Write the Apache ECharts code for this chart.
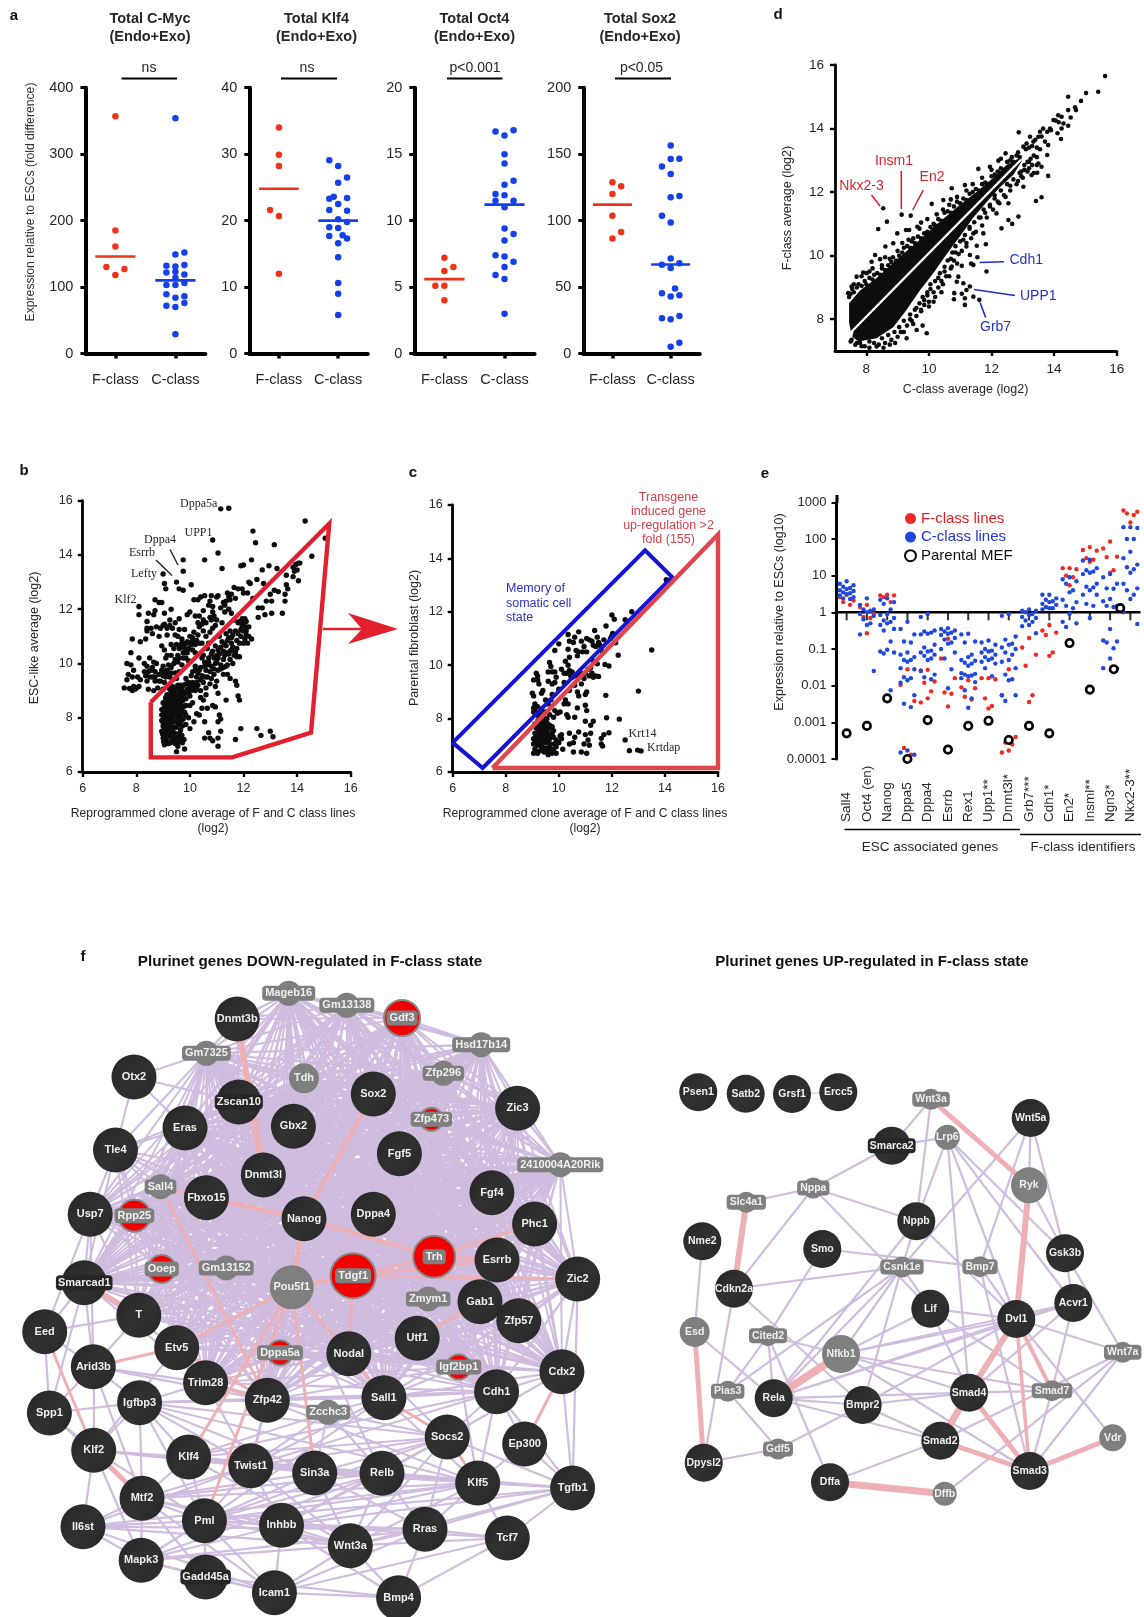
<!DOCTYPE html>
<html><head><meta charset="utf-8">
<style>html,body{margin:0;padding:0;background:#fff}#c{width:1144px;height:1617px}#c canvas{filter:blur(.45px)}</style>
<script src="https://cdn.jsdelivr.net/npm/echarts@6/dist/echarts.min.js"></script></head>
<body><div id="c"></div><script>
// ---------- panel a: [column offset, value] ----------
const classLabels=['F-class','C-class'];
const mycF=[[0,357],[0,185],[0,161],[-1,130],[1,127],[0,118]], mycC=[[0,354],[1,152],[0,149],[-1,132],[0,131],[1,133],[-1,122],[0,123],[1,119],[0,114],[-1,103],[0,103],[1,106],[-1,89],[0,84],[1,86],[1,76],[-1,72],[0,70],[0,29]];
const klfF=[[0,34],[0,29.9],[0,28.2],[-1,21.6],[0,20.7],[0,12]], klfC=[[-1,29.1],[0,28.2],[1,26.5],[0,25.7],[-.5,23.6],[-1,23.3],[1,23.4],[0,22.5],[-1,21.6],[1,21.5],[0,20.2],[1,19.8],[-1,19],[0,18.9],[-1,17.7],[.5,17.8],[1,17.3],[0,16.6],[0,14.5],[0,10.6],[0,9],[0,5.8]];
const octF=[[0,7.2],[1,6.5],[0,6.2],[-1,5.1],[0,5.1],[0,4]], octC=[[1,16.8],[-1,16.7],[0,16.4],[0,15],[0,14.3],[1,13],[0,12.7],[-1,12],[0,11.9],[-1,11.5],[1,11.5],[0,11],[0,9.4],[1,9],[0,8.5],[-1,7.4],[0,7.3],[1,6.9],[0,6.5],[-1,5.9],[0,5.6],[0,3]];
const soxF=[[0,128.8],[1,125.8],[0,120],[0,103.7],[1,91.5],[0,86.5]], soxC=[[0,156.6],[0,146.4],[1,146.6],[-1,140.8],[0,135],[1,118.5],[0,117.5],[-1,103.7],[0,98.5],[0,71.4],[1,68],[-1,66.7],[0,64.4],[.5,48.9],[-1,45.4],[1,43.9],[0,42.9],[1,28.3],[-1,26.6],[0,25.8],[1,8],[0,5]];
const meansF=[146,24.8,5.6,112], meansC=[110,20,11.2,67];
const maxA=[400,40,20,200];
// ---------- panel b: [reprogrammed clone average, ESC-like average] ----------
const bPoints=[[11.15,15.7],[11.45,15.72],[14.3,15.25],[15.05,14.62],[14.55,13.95],[12.35,14.88],[12.45,14.45],[13.15,14.38],[10.85,14.55],[11.05,14.07],[10.55,13.82],[9.75,13.82],[9.75,13.4],[11.2,13.5],[12.3,13.82],[11.9,13.6],[12.0,13.63],[9.0,13.3],[9.05,12.95],[9.1,12.75],[9.75,12.7],[9.6,12.75],[9.5,13.0],[10.05,12.9],[8.7,12.35],[8.85,12.25],[8.95,12.25],[8.1,12.1],[8.1,11.8],[8.45,11.85],[8.4,11.55],[8.65,11.8],[8.7,11.95],[9.05,11.85],[9.0,11.4],[8.4,11.3],[8.4,11.2],[8.55,11.3],[8.75,11.35],[8.9,11.3],[9.05,11.45],[9.15,11.3],[9.25,11.4],[9.35,11.3],[9.15,11.05],[8.85,11.0],[8.6,11.1],[7.85,10.9],[8.15,10.8],[8.35,10.9],[7.8,10.4],[8.1,10.2],[8.3,10.0],[8.5,10.2],[7.65,10.0],[7.8,9.95],[7.9,9.75],[7.7,9.6],[7.65,9.4],[7.85,9.5],[8.05,9.5],[8.15,9.4],[8.3,9.7],[8.35,9.55],[8.4,9.35],[8.55,9.75],[8.5,9.5],[8.6,9.85],[8.7,9.7],[8.65,10.05],[8.75,10.0],[7.55,9.1],[7.75,9.08],[7.85,9.0],[7.9,9.15],[7.95,9.05],[8.0,9.1],[8.1,9.15],[8.45,9.05],[8.65,9.0],[8.8,9.1],[9.0,9.05],[8.7,9.35],[8.9,9.35],[9.05,9.3],[9.1,9.5],[8.85,9.6],[8.95,9.75],[9.1,9.7],[9.2,9.6],[9.3,9.65],[9.0,9.9],[9.2,9.95],[9.4,10.0],[9.55,10.05],[9.6,9.7],[9.35,9.4],[9.5,9.45],[9.3,10.3],[9.1,10.2],[8.95,10.65],[9.05,10.5],[9.15,10.3],[9.3,10.7],[9.4,10.55],[9.55,10.3],[9.65,10.65],[9.75,10.6],[9.85,10.75],[9.95,10.55],[10.05,10.7],[10.15,10.8],[10.25,10.85],[10.35,10.75],[10.45,10.75],[9.9,10.4],[9.7,10.9],[9.55,11.0],[10.0,11.0],[9.45,11.05],[9.75,10.2],[9.95,10.1],[10.2,10.4],[10.1,10.95],[9.6,11.65],[9.8,11.25],[9.9,11.8],[10.0,11.9],[10.3,11.5],[10.35,11.35],[10.5,11.6],[10.6,11.0],[10.75,11.15],[10.85,11.3],[10.95,11.4],[10.6,11.5],[10.75,11.7],[10.85,11.9],[11.0,11.6],[10.5,11.95],[10.3,12.35],[10.4,12.45],[10.55,12.5],[10.8,12.5],[11.0,12.45],[11.05,12.5],[10.85,12.1],[10.7,12.15],[11.25,12.25],[11.35,12.3],[11.45,12.45],[11.5,12.35],[11.45,12.0],[11.55,11.85],[11.7,12.4],[11.65,12.8],[11.8,12.75],[11.95,12.75],[12.0,12.6],[12.15,12.6],[11.3,11.9],[11.2,11.5],[12.2,13.0],[12.25,12.95],[12.5,13.1],[12.7,13.45],[12.95,13.6],[13.25,13.5],[12.75,12.95],[12.35,12.4],[12.55,12.05],[12.7,12.05],[12.85,12.3],[13.05,12.3],[13.3,12.65],[13.15,12.7],[13.0,12.55],[13.6,12.9],[13.65,12.75],[13.55,12.55],[13.55,12.3],[13.45,11.85],[12.8,11.8],[13.05,11.85],[12.55,11.7],[13.6,13.25],[13.9,13.4],[13.85,13.55],[13.95,13.65],[14.05,13.7],[14.1,13.7],[14.0,13.45],[14.05,13.05],[13.85,13.2],[11.65,11.6],[11.85,11.55],[11.95,11.65],[12.0,11.5],[12.1,11.55],[12.2,11.35],[11.9,11.25],[12.0,11.2],[12.1,11.05],[12.2,11.0],[11.9,11.0],[11.5,11.2],[11.35,11.1],[11.45,10.95],[11.6,11.05],[11.55,10.75],[11.35,10.65],[11.15,10.6],[11.05,10.5],[11.25,10.45],[11.45,10.35],[11.65,10.3],[11.75,10.25],[11.85,10.25],[12.0,10.75],[12.15,10.75],[12.3,10.9],[11.05,10.2],[11.25,10.15],[10.8,10.35],[10.7,10.2],[10.95,10.0],[10.55,10.05],[10.6,9.75],[10.35,9.75],[10.45,9.55],[10.25,9.5],[10.05,9.55],[9.95,9.3],[10.1,9.3],[9.85,9.45],[9.75,9.2],[10.3,9.2],[10.5,9.3],[10.65,9.5],[10.9,9.6],[11.15,9.8],[11.25,9.6],[11.4,9.6],[11.5,9.45],[11.6,10.0],[11.0,9.35],[11.7,9.35],[11.75,9.2],[11.8,8.8],[11.85,8.65],[11.35,8.65],[11.05,8.9],[10.6,8.85],[10.4,8.75],[10.5,8.65],[10.85,8.45],[10.65,8.35],[10.45,8.35],[10.25,8.15],[10.35,8.1],[10.55,7.85],[11.1,8.1],[11.15,7.95],[11.05,7.85],[10.95,8.4],[10.15,7.85],[10.0,7.6],[9.85,7.75],[10.7,7.45],[10.55,7.25],[10.85,7.15],[10.75,7.25],[11.05,7.25],[11.15,7.5],[11.05,6.95],[11.7,7.2],[11.9,7.6],[12.5,7.6],[12.65,7.35],[13.0,7.5],[13.1,7.3],[9.5,6.75],[9.8,6.85],[9.05,7.0],[9.35,7.15],[9.45,7.05],[9.55,6.95],[9.65,7.2],[9.7,7.35],[9.55,7.3],[9.3,7.3],[9.15,7.15],[9.0,7.25],[9.05,7.35],[9.2,7.4],[9.4,7.45],[8.95,7.5],[9.1,7.55],[9.25,7.6],[9.35,7.55],[9.5,7.65],[9.65,7.55],[9.0,7.7],[9.15,7.75],[9.3,7.8],[9.45,7.85],[9.6,7.8],[9.75,7.95],[8.95,7.9],[9.1,7.95],[9.2,8.0],[9.35,8.05],[9.5,8.1],[9.65,8.05],[9.85,8.1],[9.0,8.1],[9.1,8.2],[9.25,8.25],[9.4,8.3],[9.55,8.35],[9.7,8.3],[8.95,8.3],[9.05,8.4],[9.2,8.45],[9.35,8.5],[9.5,8.55],[9.65,8.5],[9.85,8.45],[9.0,8.55],[9.1,8.65],[9.25,8.7],[9.4,8.75],[9.55,8.7],[9.7,8.75],[9.85,8.7],[10.0,8.8],[9.15,8.85],[9.3,8.95],[9.45,8.9],[9.6,9.0],[9.75,8.95],[9.9,9.05],[10.05,9.0],[10.2,9.0],[9.5,9.1],[9.35,9.15],[9.65,9.2],[10.4,9.0],[10.0,8.45],[10.1,8.55],[9.2,7.05],[9.5,7.4],[8.95,8.1],[9.05,7.85],[9.3,8.6],[9.45,8.2],[9.1,8.75],[9.6,8.6],[9.8,8.2],[9.95,8.0],[10.65,10.55],[10.85,10.45],[10.95,10.65],[10.7,10.75],[10.5,10.3],[11.0,10.05],[11.35,9.9],[11.5,10.15],[11.15,9.95],[10.8,9.9],[10.45,10.2],[10.2,9.9],[10.3,9.65],[11.55,10.5],[11.75,10.55],[11.8,11.5],[12.1,11.35],[12.05,11.65],[9.3,12.0],[9.45,11.5],[9.6,11.25],[9.25,11.6],[10.15,11.15],[10.5,11.2],[11.1,11.0],
[9.02,7.12],[9.12,7.28],[9.28,7.08],[9.42,7.22],[9.58,7.12],[9.72,7.08],[8.98,7.4],[9.12,7.45],[9.28,7.42],[9.45,7.32],[9.62,7.42],[9.78,7.2],[9.05,7.6],[9.18,7.62],[9.32,7.68],[9.42,7.65],[9.55,7.72],[9.72,7.7],[9.0,7.82],[9.12,7.85],[9.25,7.88],[9.38,7.95],[9.55,7.95],[9.68,7.88],[9.05,8.02],[9.15,8.08],[9.3,8.12],[9.42,8.12],[9.58,8.2],[9.72,8.15],[9.02,8.22],[9.18,8.32],[9.32,8.38],[9.48,8.42],[9.62,8.38],[9.78,8.42],[9.05,8.5],[9.15,8.55],[9.28,8.58],[9.42,8.62],[9.58,8.8],[9.72,8.62],[9.2,8.78],[9.35,8.82],[9.48,8.8],[9.65,8.88],[9.8,8.88],[9.95,8.9],[9.4,9.05],[9.55,9.2],[9.7,9.1],[9.85,9.25],[10.1,9.1],[9.25,9.05],
[10.1,9.7],[10.2,9.75],[10.4,9.85],[10.55,9.9],[10.65,9.95],[10.7,10.05],[10.9,10.2],[11.0,10.3],[11.1,10.35],[11.3,10.3],[11.35,10.4],[11.5,10.45],[11.6,10.6],[11.7,10.4],[11.3,10.7],[11.2,10.8],[11.4,10.85],[11.55,10.95],[11.7,11.2],[11.75,10.85],[11.85,10.75],[12.05,10.9],[12.1,11.2],[11.95,11.4],[11.8,11.1],[10.25,9.3],[10.4,9.4],[10.55,9.5],[10.75,9.7],[10.9,9.8],[11.05,9.75],[11.25,9.85],[11.4,9.95],[10.15,9.15],[10.0,9.15],[10.25,9.05],[10.6,9.1],[10.75,9.25],[10.95,9.15],[10.8,9.45],
[9.7,10.75],[9.8,10.7],[9.9,10.8],[10.0,10.75],[10.1,10.85],[10.2,10.7],[9.6,10.55],[9.5,10.7],[9.85,10.5],[9.75,10.4],[9.6,10.2],[9.45,10.15],[9.3,9.85],[9.15,9.75],[9.0,9.55],[8.85,9.35],[8.6,9.5],[8.45,9.7],[8.4,9.9],[8.7,9.5],[9.05,9.65],[9.25,9.5],[9.45,9.65],[9.7,9.95],[9.85,10.2],[10.1,10.5],[10.3,11.05],[10.45,11.45],[10.2,11.75],[10.35,11.75],[10.8,11.6],[10.9,11.75],[11.15,12.05],[11.3,12.15],[11.55,12.55],[11.4,12.6],[10.15,12.35],[10.75,12.3]];
const bGate=[[8.54,8.57],[15.2,15.16],[14.52,7.45],[11.58,6.54],[8.54,6.54],[8.54,8.57]];
// ---------- panel c: [reprogrammed clone average, parental fibroblast] ----------
const cPoints=[[14.05,13.2],[12.75,12.0],[12.0,11.88],[12.09,11.72],[12.5,11.7],[11.78,11.47],[13.5,10.57],[13.0,9.03],[12.24,10.37],[12.14,10.84],[12.03,11.19],[11.74,10.03],[11.89,9.97],[11.77,8.87],[11.8,8.03],[12.28,7.98],[12.5,7.2],[12.66,6.8],[12.97,6.82],[13.1,6.79],[11.89,7.47],[11.7,7.4],[11.6,7.26],[11.6,7.05],[11.65,6.97],[10.35,11.15],[10.6,11.05],[10.75,11.25],[10.4,10.9],[10.0,10.8],[9.85,10.55],[10.35,10.6],[10.65,10.55],[10.85,10.9],[11.05,11.0],[11.15,10.95],[11.25,10.9],[11.35,11.3],[11.45,11.05],[11.55,10.75],[11.7,10.95],[11.95,11.0],[12.0,11.1],[11.4,10.7],[11.6,10.55],[10.9,10.5],[11.05,10.5],[10.7,10.35],[10.75,10.5],[10.25,10.15],[10.35,10.0],[10.4,9.8],[10.5,9.75],[10.45,9.6],[9.65,10.1],[9.7,9.95],[9.6,9.75],[9.75,9.75],[9.85,9.75],[9.9,9.55],[9.15,9.7],[9.2,9.6],[9.05,9.45],[9.2,9.45],[9.6,9.4],[9.75,9.3],[9.85,9.35],[10.5,9.55],[10.6,9.6],[10.75,9.6],[11.0,9.7],[11.1,9.85],[11.2,9.9],[11.25,9.7],[11.4,9.6],[11.5,9.58],[10.85,9.3],[10.6,9.25],[10.4,9.05],[10.75,8.85],[10.7,9.0],[11.05,9.0],[11.0,8.9],[9.0,8.95],[9.05,8.85],[9.35,8.95],[9.5,8.7],[9.6,8.55],[9.7,8.7],[9.1,8.55],[9.05,8.4],[9.1,8.3],[9.2,8.45],[9.05,8.25],[9.15,8.15],[9.35,8.35],[9.4,8.1],[10.25,8.7],[10.2,8.55],[10.35,8.55],[10.7,8.4],[11.0,8.5],[11.05,8.3],[9.85,8.3],[9.95,8.2],[10.05,8.25],[10.3,8.15],[10.35,8.05],[9.8,8.05],[10.6,8.05],[11.0,7.9],[11.2,7.75],[11.3,7.9],[9.3,7.95],[9.4,7.85],[9.25,7.75],[9.35,7.65],[9.5,7.7],[9.55,7.85],[9.65,7.75],[9.75,7.7],[9.8,7.55],[9.4,7.45],[9.25,7.5],[9.55,7.5],[9.15,7.35],[9.05,7.25],[9.2,7.2],[9.35,7.15],[9.5,7.25],[9.65,7.25],[9.8,7.3],[9.9,7.2],[10.05,7.35],[10.1,7.4],[10.4,7.45],[10.75,7.5],[11.0,7.4],[11.2,7.45],[10.6,7.3],[11.1,7.2],[10.95,7.05],[11.15,7.0],[10.4,7.05],[10.55,7.1],[10.0,7.1],[10.1,7.25],[9.85,7.05],[10.15,6.85],[9.9,6.95],[9.05,7.05],[9.2,7.0],[9.35,6.95],[9.5,6.9],[9.65,6.95],[9.8,6.85],[9.1,6.85],[9.05,6.7],[9.2,6.7],[9.45,6.75],[9.55,6.75],[9.6,6.65],[9.75,6.7],[9.9,6.7],[10.55,6.75],[10.85,6.75],[11.05,6.7],[9.35,7.4],[9.45,7.6],[9.15,7.65],[9.75,7.45],[9.55,8.0],[9.65,8.15],[10.4,10.3],[10.0,9.1],[10.2,9.35],[11.45,10.05],[11.15,9.6],[11.25,10.2],
[9.25,8.05],[9.3,8.2],[9.45,8.0],[9.5,8.25],[9.2,7.9],[9.1,7.8],[9.45,7.75],[9.6,7.6],[9.3,7.6],[9.2,7.4],[9.1,7.1],[9.25,7.05],[9.45,7.1],[9.6,7.1],[9.7,7.05],[9.3,6.8],[9.4,6.85],[9.55,6.85],[9.7,6.8],[9.15,6.75],[9.1,7.45],[9.55,7.35],[9.45,7.3],[9.3,7.25],[9.7,7.4],[10.1,9.85],[10.2,9.7],[9.25,9.3],[9.4,9.05],[9.75,8.9],[10.3,9.7],[10.95,9.5],[10.8,9.75],[11.3,9.55],[10.95,10.7],[10.55,10.85],[11.3,10.75],[11.5,10.85]];
const cBlueBox=[[6,7.1],[13.25,14.3],[14.27,13.3],[7.13,6.15],[6,7.1]];
const cRedTri=[[7.5,6.15],[16,14.9],[16,6.15],[7.5,6.15]];
// ---------- panel d: [C-class average, F-class average] ----------
const dUpperCloud=[[7.5,7.63],[7.45,7.9],[7.45,8.5],[7.8,8.9],[8.33,9.3],[8.86,9.78],[9.29,10.15],[9.71,10.5],[10.14,10.9],[10.57,11.25],[10.99,11.6],[11.52,12.0],[12.06,12.45],[12.48,12.85],[13.0,13.13]];
const dLowerCloud=[[7.6,7.63],[13.0,13.03],[12.7,12.55],[12.27,12.15],[11.84,11.68],[11.42,11.2],[10.99,10.6],[10.57,10.05],[10.14,9.45],[9.71,8.9],[9.29,8.3],[8.86,7.75],[8.33,7.4],[7.75,7.3],[7.55,7.45]];
const dPoints=[[15.63,15.65],[15.41,15.16],[15.02,15.12],[14.45,15],[14.86,14.87],[14.67,14.67],[14.7,14.58],[14.45,14.58],[14.53,14.35],[14.24,14.37],[14.13,14.42],[13.98,14.27],[14.3,14.16],[14.45,14.09],[14.24,14],[14.11,13.85],[14.22,13.67],[13.87,14.0],[13.65,14],[13.55,13.9],[13.78,13.9],[13.5,13.74],[13.23,13.74],[12.87,13.88],[13.71,13.59],[13.81,13.48],[13.12,13.53],[13.34,13.59],[13.02,13.43],[13.78,13.17],[13.5,12.9],[13.6,12.8],[13.46,12.61],[13.81,12.51],[13.6,11.84],[13.42,11.72],[14.05,14.25],[14.15,14.2],[13.9,13.95],[13.6,13.75],[13.4,13.65],[13.3,13.45],[13.45,13.4],[13.2,13.4],[13.1,13.35],[13.55,13.35],[13.45,13.1],[13.35,13.15],[13.25,13.05],[13.15,12.95],[13.3,12.85],[13.45,12.85],[13.2,12.75],[13.35,12.6],[13.05,12.7],[12.95,12.65],[8.54,11.49],[8.66,11.07],[8.38,10.84],[9.13,11.29],[9.42,11.26],[9.27,10.81],[9.37,10.81],[9.63,10.91],[9.75,11.04],[8.99,10.7],[8.86,10.39],[8.61,10.29],[8.28,10.02],[8.44,9.89],[8.17,9.81],[7.9,9.47],[8.01,9.45],[7.69,9.34],[7.53,9.03],[7.42,8.82],[10.09,11.63],[10.46,11.75],[10.73,12.12],[10.7,11.77],[11.15,12.22],[11.58,12.73],[11.95,12.8],[12.22,12.99],[12.45,13.22],[9.15,10.4],[9.5,10.55],[9.7,10.85],[9.95,11.15],[10.25,11.3],[10.45,11.45],[10.65,11.6],[10.9,11.85],[11.2,12.05],[11.4,12.25],[11.7,12.45],[12.0,12.7],[12.3,13.05],[12.65,13.1],[12.85,13.25],[8.2,9.6],[8.6,9.95],[9.0,10.15],[9.35,10.5],[7.6,9.1],[7.85,9.35],[8.1,9.5],[8.5,9.7],[8.75,9.9],[11.84,9.5],[11.55,9.95],[11.42,9.71],[11.35,9.75],[11.82,10.36],[11.53,10.31],[12.32,10.86],[12.66,11],[12.86,11.23],[12.54,11.12],[11.31,9.03],[11.2,8.92],[11.61,8.61],[11.42,8.71],[11.15,8.66],[11.15,8.45],[11.05,8.8],[10.81,8.82],[10.8,8.63],[10.89,9.18],[11.1,9.13],[9.93,7.56],[9.61,7.66],[9.29,7.4],[8.92,7.25],[8.33,7.14],[7.53,7.35],[10.94,9.34],[10.73,9.66],[11.05,9.68],[11.31,10.02],[11.2,10.29],[11.74,10.7],[11.42,10.7],[12.16,11.33],[12.54,11.65],[13.02,12.17],[13.28,12.54],[12.45,11.85],[12.2,11.7],[12.85,12.35],[12.6,12.2],[12.95,12.5],[12.1,11.9],[11.95,11.55],[11.65,11.2],[11.8,11.35],[11.3,10.9],[11.1,10.5],[10.85,10.1],[10.7,9.9],[10.5,9.5],[10.3,9.3],[10.05,8.95],[9.85,8.6],[9.6,8.35],[9.4,8.0],[9.1,7.6],[10.45,9.1],[10.2,8.7],[10.0,8.4],[9.75,8.25],[10.65,9.35],[10.9,9.75],[10.4,8.85],[10.15,8.55],[9.95,8.75],[9.8,7.8],[9.5,7.85],[9.2,7.6],[8.75,7.2],[8.55,7.1],[8.1,7.1],[7.85,7.15],[7.7,7.25],
[7.45,8.7],[7.5,8.8],[7.6,8.85],[7.55,8.95],[7.7,9.0],[7.75,9.1],[7.85,9.05],[7.95,9.2],[8.0,9.1],[8.1,9.3],[8.2,9.25],[8.25,9.4],[8.35,9.45],[8.45,9.4],[8.5,9.6],[8.6,9.55],[8.7,9.7],[8.8,9.8],[8.85,9.95],[8.95,9.85],[9.05,10.0],[9.15,10.1],[9.2,10.25],[9.3,10.3],[9.4,10.25],[9.45,10.45],[9.55,10.4],[9.65,10.6],[9.75,10.55],[9.85,10.7],[9.95,10.75],[10.05,10.9],[10.15,11.0],[10.2,10.95],[10.3,11.15],[10.4,11.1],[10.5,11.35],[10.6,11.4],[10.7,11.35],[10.8,11.55],[10.9,11.7],[11.0,11.65],[11.1,11.8],[11.2,11.75],[11.3,11.95],[11.4,12.0],[11.5,12.1],[11.6,12.05],[11.7,12.25],[11.8,12.3],[11.9,12.25],[12.0,12.5],[12.1,12.55],[12.2,12.65],[12.3,12.75],[12.4,12.7],[12.5,12.95],[12.6,13.0],[12.7,12.95],[12.8,13.15],[12.9,13.1],
[7.5,7.3],[7.65,7.2],[7.8,7.25],[7.95,7.15],[8.1,7.3],[8.25,7.25],[8.4,7.2],[8.5,7.4],[8.6,7.25],[8.7,7.5],[8.8,7.35],[8.9,7.6],[9.0,7.45],[9.05,7.75],[9.15,7.6],[9.2,7.95],[9.3,7.8],[9.4,8.15],[9.45,7.95],[9.55,8.3],[9.6,8.1],[9.7,8.5],[9.75,8.3],[9.8,8.7],[9.85,8.45],[9.95,8.85],[10.0,8.55],[10.05,9.1],[10.15,8.85],[10.2,9.2],[10.3,9.0],[10.35,9.45],[10.4,9.2],[10.5,9.65],[10.55,9.35],[10.6,9.85],[10.7,9.6],[10.75,10.1],[10.8,9.85],[10.85,10.3],[10.95,10.05],[11.0,10.45],[11.05,10.15],[11.15,10.65],[11.2,10.4],[11.3,10.85],[11.35,10.55],[11.45,11.05],[11.5,10.75],[11.6,11.2],[11.7,10.95],[11.75,11.45],[11.85,11.2],[11.95,11.6],[12.05,11.45],[12.1,11.8],[12.25,11.65],[12.3,12.05],[12.4,11.9],[12.5,12.25],[12.6,12.05],[12.7,12.4],[12.8,12.25],[12.9,12.6],[13.0,12.45],[13.05,12.85],[13.15,12.65],[13.2,12.95]];
// ---------- panel e ----------
const eGenes=['Sall4','Oct4 (en)','Nanog','Dppa5','Dppa4','Esrrb','Rex1','Upp1**','Dnmt3l*','Grb7***','Cdh1*','En2*','Insml**','Ngn3*','Nkx2-3**'];
const eFValues=[[3,2.6,2.1,1.9,1.6],[1.6,1.4,.9,.75,.7,.27],[3,2.9,2.9,2.6,1.9],[.028,.0105,.0038,.0002,.00013,.0001],[.027,.026,.013,.012,.007,.0045,.0035],[.19,.055,.016,.0065,.006,.0027],[.014,.009,.0085,.005,.0042],[.016,.016,.015,.0045,.0028,.0024],[.028,.0055,.0004,.00028,.00025,.00017,.00015],[.2,.11,.07,.035,.0055,.0036],[.45,.32,.28,.24,.08,.065],[16,16,15,10,9,5.5],[60,50,48,30,27,24],[85,55,33,32,14,12],[1050,600,550,500,450,280]];
const eCValues=[[7,6,5.5,5,4.6,4.3,4,3.8,3.5,3.3,3.1,2.9,2.6,2.4,2.3],[2.4,1.6,1.2,1.2,1.1,1,.9,.8,.65,.5,.45,.25,.025],[2.4,2.2,1.9,1.7,1.2,.9,.85,.7,.6,.55,.5,.45,.35,.32,.16,.095,.085,.08,.075,.0075],[.55,.35,.25,.16,.15,.08,.07,.06,.05,.05,.045,.03,.028,.017,.016,.014,.012,.0055,.0032,.0026,.00017,.00015,.00013],[.9,.75,.32,.3,.28,.26,.25,.13,.11,.09,.085,.08,.07,.065,.055,.05,.025,.02,.017,.015],[.37,.35,.32,.3,.28,.26,.24,.2,.18,.15,.14,.1,.08,.055,.028,.0085],[.26,.25,.16,.15,.07,.06,.05,.048,.042,.04,.035,.022,.021,.02,.019,.018,.016,.0125,.0075,.0045,.0025],[.17,.15,.13,.1,.09,.085,.08,.07,.06,.055,.05,.045,.04,.03,.018],[.9,.8,.22,.18,.14,.13,.11,.1,.08,.07,.05,.045,.03,.02,.015,.014,.0055,.0055,.0038],[1.2,1.1,1.1,1,.9,.85,.75,.7,.6,.55,.45,.42,.27],[3,3,2.4,2.2,2,1.9,1.7,1.6,1.4,1.3,1.3,1.2],[9,8,7,6,4,3.5,2.2,1.9,1.5,1.3,.9,.55,.5,.4],[27,26,16,14,13,12,11,6,5,4.8,4,3,3,1.7,1.5,.7],[11,9,6,4.5,4.4,2.3,2,1.5,1.5,1.4,.35,.17,.16,.15,.105,.055,.03,.03],[210,210,200,100,100,45,30,20,17,15,12,6,4.5,4,3,2.3,1,.48]];
const eMEF=[.0005,.0008,.0045,.0001,.00115,.00018,.0008,.0011,.00033,.0008,.0005,.145,.0078,.028,1.3];
const eMEFShift=[0,0,0,0,0,0,0,0,0,0,0,0,0,.18,-.5];
const eTickLabels=['0.0001','0.001','0.01','0.1','1','10','100','1000'];
// ---------- panel f: network genes [name, x, y] ----------
const downNodes=[['Mageb16',288.7,993.3],['Gm13138',346.8,1005.3],['Gdf3',402.1,1018],['Dnmt3b',237.2,1019],['Hsd17b14',481.2,1044.7],['Gm7325',206.4,1053.3],['Otx2',134,1077],['Tdh',304,1078.3],['Zfp296',443.3,1073.3],['Sox2',373.3,1094],['Zscan10',238.8,1102],['Gbx2',293.4,1126.3],['Eras',185,1128],['Zfp473',431.4,1119.3],['Zic3',517.6,1108.3],['Tle4',115.5,1150],['Fgf5',399.4,1153.7],['2410004A20Rik',560.3,1164.7],['Dnmt3l',263.3,1175],['Sall4',160.5,1186.7],['Fbxo15',206.4,1197.7],['Fgf4',491.9,1192.7],['Usp7',90.2,1214.3],['Rpp25',134.4,1215.7],['Nanog',304,1218.7],['Dppa4',373.3,1214.3],['Phc1',534.6,1224],['Trh',434.2,1256.7],['Esrrb',497,1260],['Ooep',161.7,1269],['Gm13152',226.2,1268],['Tdgf1',353.1,1275.7],['Zic2',577.7,1279],['Smarcad1',84.2,1282.7],['Pou5f1',291.8,1287.3],['Zmym1',428.2,1299],['Gab1',480,1301.7],['Zfp57',518.8,1320.7],['T',138.8,1315.3],['Eed',44.7,1331.7],['Etv5',176.7,1347.7],['Utf1',417.2,1338.3],['Dppa5a',280,1352.7],['Nodal',348.8,1353.7],['Igf2bp1',458.7,1367],['Arid3b',93.3,1366.7],['Cdx2',561.9,1371.7],['Trim28',205.6,1382.7],['Zfp42',267.3,1400.3],['Igfbp3',139.6,1402.7],['Sall1',383.9,1397.7],['Cdh1',496.6,1391.7],['Spp1',49.4,1413],['Zcchc3',328.2,1412.3],['Socs2',447.2,1437],['Ep300',524.7,1444],['Klf2',93.7,1450.3],['Klf4',188.6,1457],['Twist1',250.7,1465.7],['Sin3a',314.7,1473],['Relb',382,1473.3],['Klf5',477.7,1483],['Tgfb1',572.6,1488],['Mtf2',142,1498.3],['Pml',204.4,1520.7],['Il6st',83,1526.7],['Inhbb',281.5,1525.3],['Rras',425,1529.3],['Tcf7',507.3,1538],['Wnt3a',350.3,1545.7],['Mapk3',141.2,1560.3],['Gadd45a',205.6,1577],['Icam1',274.4,1592.7],['Bmp4',398.6,1597.7]];
const downCore=['Mageb16','Gm13138','Gdf3','Hsd17b14','Gm7325','Tdh','Zfp296','Zfp473','Sox2','Gbx2','Eras','Fgf5','Dnmt3l','Nanog','Dppa4','Fgf4','Trh','Tdgf1','Pou5f1','Zmym1','Esrrb','Utf1','Dppa5a','Nodal','Igf2bp1','Gm13152','Sall4','Rpp25','Ooep','Zscan10','Fbxo15','2410004A20Rik','Zic3','Phc1'];
const downMid=['Etv5','Trim28','Zfp42','Sall1','Gab1','Zfp57','T','Smarcad1','Cdh1','Cdx2','Zic2','Usp7'];
const downHubs={Pml:'Il6st Mtf2 Mapk3 Gadd45a Icam1 Inhbb Wnt3a Rras Tcf7 Klf5 Tgfb1 Relb Sin3a Socs2 Twist1 Klf4 Klf2 Igfbp3 Sall1',Klf5:'Tgfb1 Wnt3a Rras Inhbb Twist1 Sin3a Relb Klf4 Mtf2 Klf2 Il6st Sall1 Zfp42 Cdh1 Ep300 Igf2bp1 Tcf7 Igfbp3',Sin3a:'Klf4 Klf2 Mtf2 Rras Relb Twist1 Tgfb1 Igfbp3 Wnt3a Zcchc3',Relb:'Rras Wnt3a Twist1 Klf4 Tgfb1 Inhbb Mtf2 Mapk3',Wnt3a:'Icam1 Bmp4 Mapk3 Il6st Inhbb Tcf7 Rras Twist1 Klf4 Mtf2 Tgfb1',Rras:'Bmp4 Icam1 Tcf7 Inhbb Mapk3 Il6st Tgfb1',Icam1:'Bmp4 Gadd45a Mapk3 Inhbb Tcf7 Il6st Mtf2',Bmp4:'Tcf7 Inhbb Gadd45a',Mapk3:'Gadd45a Mtf2 Il6st Inhbb Klf2',Mtf2:'Il6st Gadd45a Inhbb Klf4 Twist1 Igfbp3 Arid3b Spp1',Klf2:'Spp1 Igfbp3 Arid3b Il6st Klf4 Twist1 Etv5',Igfbp3:'Arid3b Spp1 Zfp42 Trim28 Sall1 Cdh1 Socs2 Twist1 Klf4',Arid3b:'Eed Smarcad1 T Trim28 Zfp42 Spp1',Eed:'Smarcad1 Spp1 Usp7 T',Usp7:'Smarcad1 Tle4 Rpp25 Sall4 T Arid3b',Smarcad1:'Tle4 Rpp25 Spp1 Ooep Etv5 Trim28',Otx2:'Tle4 Gm7325 Eras Zscan10',Tle4:'Eras Sall4 Fbxo15 Rpp25 Ooep Zscan10 Gm7325 Dnmt3l T Gm13152 Nanog',Cdh1:'Cdx2 Tgfb1 Socs2 Sall1 Zfp42 Igf2bp1 Ep300 Klf4 Trim28',Cdx2:'Zfp57 Zic2 Tgfb1 Igf2bp1 Sall1 Socs2 Gab1',Tgfb1:'Ep300 Socs2 Zic2 Tcf7 Inhbb Twist1 Klf4',Zic2:'Phc1 Esrrb Zfp57 Gab1 Cdh1 Sall1 Igf2bp1',Phc1:'Zfp57 Esrrb Zic2',Socs2:'Sin3a Relb Twist1 Klf4 Rras Wnt3a Inhbb',Pou5f1:'Klf4 Twist1 Sin3a Relb Socs2 Cdh1',Zcchc3:'Zfp42 Sall1 Klf4 Relb Twist1 Socs2 Trim28',Twist1:'Klf4 Zfp42 Trim28 Inhbb Il6st Sall1 Cdh1',Dnmt3b:'Mageb16 Gm13138 Gm7325 Zscan10 Gdf3'};
const downPink=[['Dnmt3b','Dnmt3l',6],['Sox2','Nanog',4],['Sall4','Fbxo15',3],['Sall4','Zfp42',3],['Fbxo15','Nanog',4],['Nanog','Trh',4],['Nanog','Pou5f1',5],['Trh','Esrrb',4],['Trh','Phc1',3],['Tdgf1','Esrrb',3],['Tdgf1','Zic2',3],['Pou5f1','Tdgf1',4],['Pou5f1','Klf4',3],['Pou5f1','Pml',3],['Pou5f1','Nodal',3],['Pou5f1','Sin3a',3],['Pou5f1','Etv5',3],['Smarcad1','T',5],['Arid3b','Etv5',3],['Eed','Klf2',3],['Klf2','Mtf2',5],['Etv5','Zfp42',3],['Trim28','Zfp42',3],['Nodal','Sall1',3],['Sall1','Socs2',3],['Socs2','Klf5',3],['Cdx2','Ep300',3],['Utf1','Gab1',3],['Tdgf1','Nodal',3],['Tdgf1','Trh',3]];
const downPills=['Mageb16','Gm13138','Hsd17b14','Gm7325','Zfp296','2410004A20Rik','Sall4','Gm13152','Zmym1','Zcchc3'];
const upNodes=[['Psen1',698.3,1092.3],['Satb2',745.7,1093.7],['Grsf1',792,1094],['Ercc5',838.3,1092.3],['Wnt3a',931,1099.3],['Wnt5a',1030.7,1118],['Lrp6',947.3,1137.3],['Smarca2',891.7,1145.7],['Ryk',1029,1185.3],['Nppa',813.3,1188],['Slc4a1',746.3,1202.3],['Nppb',916.3,1221.3],['Nme2',702.3,1241.3],['Smo',822.3,1249],['Gsk3b',1065,1253.3],['Csnk1e',902,1267],['Bmp7',980,1266.7],['Cdkn2a',734,1288.7],['Lif',930.3,1308.7],['Acvr1',1073.3,1303],['Dvl1',1016.3,1319],['Esd',694.7,1332],['Cited2',768,1335.7],['Nfkb1',841,1354],['Wnt7a',1122.7,1352.3],['Pias3',727.7,1391.3],['Rela',773.7,1398.3],['Smad4',969,1392.7],['Smad7',1052,1390.7],['Bmpr2',862.7,1405],['Smad2',940.3,1440.7],['Vdr',1112.7,1437.7],['Gdf5',778,1449],['Dpysl2',703.7,1462.7],['Smad3',1029.7,1471],['Dffa',830,1482.3],['Dffb',944.7,1493.7]];
const upHubs={Wnt3a:'Smarca2 Nppb',Lrp6:'Smarca2 Nppb Dvl1 Smad4 Gsk3b Acvr1',Smarca2:'Nppa',Wnt5a:'Ryk Gsk3b Csnk1e Bmp7',Ryk:'Gsk3b',Nppa:'Slc4a1 Nppb Cdkn2a Lif',Nppb:'Csnk1e Rela Dvl1',Smo:'Bmp7 Cited2',Cdkn2a:'Csnk1e Dpysl2 Bmpr2',Nme2:'Esd',Esd:'Rela',Csnk1e:'Lif Nfkb1 Rela Pias3 Bmpr2',Bmp7:'Dvl1 Smad3',Gsk3b:'Acvr1 Wnt7a',Acvr1:'Dvl1 Nfkb1 Smad7 Rela Smad4',Dvl1:'Lif Nfkb1 Rela Bmpr2 Wnt7a Vdr Smad2',Lif:'Nfkb1 Smad4 Smad7',Cited2:'Rela Nfkb1 Pias3 Dffa',Nfkb1:'Smad4 Smad7 Smad3',Rela:'Smad4 Bmpr2 Smad2',Pias3:'Gdf5',Dpysl2:'Gdf5',Gdf5:'Bmpr2',Bmpr2:'Smad4 Smad2',Smad4:'Smad7',Smad2:'Wnt7a Dffa',Smad3:'Wnt7a Smad7',Dffb:'Wnt7a',Grsf1:'Ercc5'};
const upPink=[['Wnt3a','Ryk',5],['Ryk','Dvl1',6],['Slc4a1','Cdkn2a',6],['Esd','Dpysl2',5],['Rela','Nfkb1',8],['Dvl1','Smad4',6],['Smad4','Smad2',7],['Smad4','Smad3',5],['Smad2','Smad3',5],['Smad3','Vdr',5],['Dffa','Dffb',7],['Dvl1','Smad7',4],['Dvl1','Smad3',3.5]];
const upPills=['Wnt3a','Nppa','Slc4a1','Csnk1e','Bmp7','Cited2','Wnt7a','Pias3','Smad7','Gdf5'];
// ---------- styling and assembly ----------
const SANS='Liberation Sans', RED='#ee3318', BLUE='#1440e8', INK='#262626';
const T=(text,x,y,o={})=>({type:'text',x,y,rotation:o.rot||0,silent:true,z:60,style:{text,fill:o.c||INK,font:`${o.b?'bold ':''}${o.s||13}px "${o.f||SANS}"`,align:o.a||'center',verticalAlign:'middle'}});
const L=(x1,y1,x2,y2,c,w)=>({type:'line',silent:true,z:60,shape:{x1,y1,x2,y2},style:{stroke:c||'#000',lineWidth:w||2}});
const graphics=[];
[['a',14,16],['d',778,15],['b',24,471],['c',413,473],['e',765,474],['f',83,957]].forEach(a=>graphics.push(T(a[0],a[1],a[2],{b:1,s:15,c:'#111'})));
[['Total C-Myc',150],['Total Klf4',316.5],['Total Oct4',474.5],['Total Sox2',640]].forEach(a=>{graphics.push(T(a[0],a[1],19,{b:1,s:14.5}));graphics.push(T('(Endo+Exo)',a[1],37,{b:1,s:14.5}));});
[['ns',149,121.5,177],['ns',307,281,337],['p<0.001',475,447,502.5],['p<0.05',641.5,615,671]].forEach(a=>{graphics.push(T(a[0],a[1],68,{s:14}));graphics.push(L(a[2],78.5,a[3],78.5,'#000',2));});
graphics.push(T('Expression relative to ESCs (fold difference)',30.5,202,{s:12.2,rot:Math.PI/2,c:'#333'}));
graphics.push(T('Reprogrammed clone average of F and C class lines',213,814,{s:12.2}),T('(log2)',213,829,{s:12.2}),T('ESC-like average (log2)',34.5,638,{s:12.5,rot:Math.PI/2}));
graphics.push(T('Reprogrammed clone average of F and C class lines',585,814,{s:12.2}),T('(log2)',585,829,{s:12.2}),T('Parental fibroblast (log2)',414.5,638,{s:12.5,rot:Math.PI/2}));
[['Dppa5a',180,504],['UPP1',184.5,533],['Dppa4',144,540],['Esrrb',129,553],['Lefty',131,574],['Klf2',114.5,599.5],['Krt14',628.5,734],['Krtdap',647,748]].forEach(a=>graphics.push(T(a[0],a[1],a[2],{a:'left',s:12,f:'Liberation Serif'})));
graphics.push(L(170,549.5,178,565,'#222',1.4),L(156,560,172,575.5,'#222',1.4));
['Memory of','somatic cell','state'].forEach((t,i)=>graphics.push(T(t,506,589+i*14.2,{a:'left',s:12.5,c:'#2a30c8'})));
['Transgene','induced gene','up-regulation >2','fold (155)'].forEach((t,i)=>graphics.push(T(t,668.5,497.5+i*14,{s:12.5,c:'#d8404a'})));
graphics.push(L(322.7,629,362,629,'#e3202e',2.5),{type:'polygon',silent:true,z:60,shape:{points:[[348,613],[398,629],[348,644],[362,629]]},style:{fill:'#e3202e'}});
graphics.push(T('C-class average (log2)',965.5,390,{s:12.5}),T('F-class average (log2)',788,208,{s:12.5,rot:Math.PI/2}));
[['Nkx2-3',861.5,186],['Insm1',894,161],['En2',932,177]].forEach(a=>graphics.push(T(a[0],a[1],a[2],{s:14,c:'#d8262c'})));
graphics.push(L(871.5,195,880,206,'#d8262c',1.6),L(901.3,171,901.3,209,'#d8262c',1.6),L(923.3,190,912.7,210,'#d8262c',1.6));
[['Cdh1',1009.5,260],['UPP1',1020,296],['Grb7',980,327]].forEach(a=>graphics.push(T(a[0],a[1],a[2],{a:'left',s:14,c:'#2233c8'})));
graphics.push(L(979.5,262.5,1004,261.7,'#1c2ed0',1.6),L(974,289.5,1015,295.5,'#1c2ed0',1.6),L(980,302.5,985.7,317.5,'#1c2ed0',1.6));
graphics.push(T('Expression relative to ESCs (log10)',780,612,{s:12.5,rot:Math.PI/2}));
graphics.push(L(844.5,829.5,1020,829.5,'#000',1.6),L(1020,834.5,1141,834.5,'#000',1.6),T('ESC associated genes',930,847,{s:13.5}),T('F-class identifiers',1083,847,{s:13.5}),L(837,495,837,503,'#000',3));
graphics.push(T('Plurinet genes DOWN-regulated in F-class state',310,962,{b:1,s:15.2,c:'#111'}),T('Plurinet genes UP-regulated in F-class state',872,962,{b:1,s:15,c:'#111'}));

const grid=[],xAxis=[],yAxis=[],series=[];
const pxA=[[85.4,120],[249.3,118.5],[414.3,120.3],[583.3,116.5]];
const topA=87.7,hA=265.8;
[[mycF,mycC],[klfF,klfC],[octF,octC],[soxF,soxC]].forEach((pair,i)=>{
  grid.push({left:pxA[i][0],top:topA,width:pxA[i][1],height:hA});
  xAxis.push({gridIndex:i,type:'value',min:0,max:4,splitLine:{show:false},axisLine:{lineStyle:{color:'#000',width:4}},
    axisTick:{customValues:[1,3],length:5,lineStyle:{color:'#000',width:3.5}},
    axisLabel:{customValues:[1,3],formatter:v=>classLabels[(v-1)/2],fontSize:14.5,fontFamily:SANS,color:INK,margin:19}});
  yAxis.push({gridIndex:i,type:'value',min:0,max:maxA[i],interval:maxA[i]/4,splitLine:{show:false},axisLine:{show:true,lineStyle:{color:'#000',width:4}},
    axisTick:{length:5,lineStyle:{color:'#000',width:3}},axisLabel:{fontSize:14.5,fontFamily:SANS,color:INK,margin:12}});
  [[pair[0],1,RED,meansF[i]],[pair[1],3,BLUE,meansC[i]]].forEach(s=>{
    series.push({type:'scatter',xAxisIndex:i,yAxisIndex:i,symbolSize:6.5,itemStyle:{color:s[2],opacity:1},data:s[0].map(p=>[s[1]+p[0]*.3,p[1]])});
    series.push({type:'line',xAxisIndex:i,yAxisIndex:i,showSymbol:false,lineStyle:{color:s[2],width:2.6},data:[[s[1]-.67,s[3]],[s[1]+.67,s[3]]]});
  });
});
function plainAxis(gi,min,max,custom,margin,fs){
  const mk=()=>({gridIndex:gi,type:'value',min,max,splitLine:{show:false},axisLine:{show:true,onZero:false,lineStyle:{color:'#000',width:2.8}},
    axisTick:{length:5,lineStyle:{color:'#000',width:2.4}},axisLabel:{fontSize:fs,fontFamily:SANS,color:INK,margin}});
  const a=mk(),b=mk();
  if(custom){[a,b].forEach(o=>{o.axisTick.customValues=custom;o.axisLabel.customValues=custom;});}else{a.interval=2;b.interval=2;}
  xAxis.push(a);yAxis.push(b);
}
grid.push({left:82.7,top:500.7,width:268,height:271.3});plainAxis(4,6,16,null,10,12.5);
series.push({type:'scatter',xAxisIndex:4,yAxisIndex:4,symbolSize:5.4,itemStyle:{color:'#0d0d0d',opacity:1},data:bPoints});
series.push({type:'line',xAxisIndex:4,yAxisIndex:4,showSymbol:false,clip:false,z:5,lineStyle:{color:'#e3202e',width:4.4,join:'miter'},data:bGate});
grid.push({left:452.7,top:505,width:265.3,height:267});plainAxis(5,6,16,null,10,12.5);
series.push({type:'scatter',xAxisIndex:5,yAxisIndex:5,symbolSize:5.4,itemStyle:{color:'#0d0d0d',opacity:1},data:cPoints});
series.push({type:'line',xAxisIndex:5,yAxisIndex:5,showSymbol:false,clip:false,z:5,lineStyle:{color:'#1414d8',width:4,join:'miter'},data:cBlueBox});
series.push({type:'line',xAxisIndex:5,yAxisIndex:5,showSymbol:false,clip:false,z:6,lineStyle:{color:'#e0454d',width:4.4,join:'miter'},data:cRedTri});
grid.push({left:835,top:65,width:281.7,height:286});plainAxis(6,7,16,[8,10,12,14,16],11,13.5);
[dUpperCloud,dLowerCloud].forEach(poly=>series.push({type:'custom',xAxisIndex:6,yAxisIndex:6,clip:false,data:[poly[0]],
  renderItem:(p,api)=>({type:'polygon',shape:{points:poly.map(q=>api.coord(q))},style:{fill:'#0d0d0d'}})}));
series.push({type:'scatter',xAxisIndex:6,yAxisIndex:6,symbolSize:4.6,itemStyle:{color:'#0d0d0d',opacity:1},data:dPoints});
const jig=[0,-.34,.34,-.17,.17];
const swarm=(arr)=>arr.flatMap((vals,g)=>vals.map((v,k)=>[g+.5+jig[k%5],v]));
grid.push({left:836.5,top:502.3,width:304,height:256.7});
xAxis.push({gridIndex:7,type:'value',min:0,max:15,splitLine:{show:false},axisLine:{show:false},axisTick:{show:false},
  axisLabel:{customValues:eGenes.map((_,k)=>k+.5),formatter:v=>eGenes[Math.round(v-.5)],rotate:90,align:'left',verticalAlign:'middle',margin:63,fontSize:13.5,fontFamily:SANS,color:INK,hideOverlap:false}});
yAxis.push({gridIndex:7,type:'log',logBase:10,min:.0001,max:1000,splitLine:{show:false},axisLine:{show:true,onZero:false,lineStyle:{color:'#000',width:3}},minorTick:{show:false},
  axisTick:{length:5,lineStyle:{color:'#000',width:2}},axisLabel:{fontSize:13,fontFamily:SANS,color:INK,margin:10,formatter:v=>eTickLabels[Math.round(Math.log10(v))+4]}});
series.push({type:'line',xAxisIndex:7,yAxisIndex:7,showSymbol:false,clip:false,z:3,lineStyle:{color:'#000',width:2.4},data:[[0,1],[15,1]]});
series.push({type:'scatter',xAxisIndex:7,yAxisIndex:7,symbol:'rect',symbolSize:[2,8],symbolOffset:[0,4],z:3,itemStyle:{color:'#000'},data:eGenes.map((_,k)=>[k+.5,1])});
series.push({name:'F-class lines',type:'scatter',xAxisIndex:7,yAxisIndex:7,symbolSize:4.4,z:4,itemStyle:{color:'#ee2a22',opacity:1},data:swarm(eFValues)});
series.push({name:'C-class lines',type:'scatter',xAxisIndex:7,yAxisIndex:7,symbolSize:4.4,z:5,itemStyle:{color:'#1f48dc',opacity:1},data:swarm(eCValues)});
series.push({name:'Parental MEF',type:'scatter',xAxisIndex:7,yAxisIndex:7,symbolSize:7.5,z:7,itemStyle:{color:'#fff',borderColor:'#000',borderWidth:2.6,opacity:1},data:eMEF.map((v,k)=>[k+.5+eMEFShift[k],v])});
grid.push({left:0,top:0,width:1144,height:1617});
xAxis.push({gridIndex:8,type:'value',min:0,max:1144,show:false});
yAxis.push({gridIndex:8,type:'value',min:0,max:1617,inverse:true,show:false});
const cv=document.createElement('canvas');cv.width=cv.height=10;const g=cv.getContext('2d');
g.fillStyle='#242424';g.fillRect(0,0,10,10);g.strokeStyle='#323232';g.lineWidth=1.6;
[[-2,2,2,-2],[0,10,10,0],[8,12,12,8]].forEach(s=>{g.beginPath();g.moveTo(s[0],s[1]);g.lineTo(s[2],s[3]);g.stroke();});
const STRIPE={image:cv,repeat:'repeat'};
const reds={Gdf3:36,Zfp473:23,Rpp25:32,Ooep:28,Dppa5a:25,Igf2bp1:25,Trh:42,Tdgf1:45};
const greys={Tdh:30,Pou5f1:44,Ryk:36,Esd:30,Nfkb1:38,Vdr:27,Dffb:24,Lrp6:25};
const darkPills=new Set(['Smarcad1','Zscan10','Gadd45a','Smarca2']);
function netSeries(nodes,hubs,pink,pillNames,extra,dark,isLeft){
  const pills=new Set(pillNames);
  const names=new Set(nodes.map(n=>n[0]));const links=[];const seen=new Set();
  const add=(a,b,c,w)=>{const k=a<b?a+'|'+b:b+'|'+a;if(!names.has(a)||!names.has(b)||a===b||seen.has(k))return;seen.add(k);links.push({source:a,target:b,lineStyle:{color:c,width:w,opacity:1,curveness:0}});};
  const pinkLinks=pink.map(e=>({source:e[0],target:e[1],lineStyle:{color:'#eeb0b4',width:e[2],opacity:1,curveness:0}}));
  pink.forEach(e=>{seen.add(e[0]<e[1]?e[0]+'|'+e[1]:e[1]+'|'+e[0]);});
  Object.keys(hubs).forEach(h=>hubs[h].split(' ').forEach(t=>add(h,t,'#d0bcdf',h==='Grsf1'?1:2.2)));
  if(extra){const cs=extra.core,ms=extra.mid;cs.forEach((a,i)=>cs.slice(i+1).forEach(b=>add(a,b,'#d0bcdf',2.2)));cs.forEach(a=>ms.forEach(b=>add(a,b,'#d0bcdf',2)));}
  const small=isLeft?25:21;
  const data=nodes.map(n=>{
    const nm=n[0];let size=dark,color=STRIPE,border={};let label={show:true,position:'inside',color:'#f0f0f0',fontFamily:SANS,fontWeight:'bold',fontSize:isLeft?11:10.5};
    if(pills.has(nm)){size=small;color='#7f7f7f';Object.assign(label,{backgroundColor:'#7f7f7f',padding:[2,3],borderRadius:4});}
    else if(reds[nm]){size=reds[nm];color='#f20000';border={borderColor:'#888',borderWidth:2};Object.assign(label,{backgroundColor:'#7f7f7f',padding:[2,3],borderRadius:4});}
    else if(greys[nm]){size=greys[nm];color='#7f7f7f';}
    else if(darkPills.has(nm)){Object.assign(label,{backgroundColor:'#262626',padding:[2,2],borderRadius:4});}
    return {name:nm,value:[n[1],n[2]],symbolSize:size,itemStyle:Object.assign({color,opacity:1},border),label};
  });
  return {type:'graph',layout:'none',coordinateSystem:'cartesian2d',xAxisIndex:8,yAxisIndex:8,silent:true,roam:false,z:2,
    symbol:'circle',edgeSymbol:['none','none'],data,links:links.concat(pinkLinks)};
}
series.push(netSeries(downNodes,downHubs,downPink,downPills,{core:downCore,mid:downMid},45,true));
series.push(netSeries(upNodes,upHubs,upPink,upPills,null,38,false));

const chart=echarts.init(document.getElementById('c'),null,{renderer:'canvas',width:1144,height:1617});
chart.setOption({animation:false,backgroundColor:'#fff',grid,xAxis,yAxis,series,graphic:{elements:graphics},
  legend:{show:true,orient:'vertical',left:899,top:506,itemWidth:11,itemHeight:11,itemGap:3.6,icon:'circle',textStyle:{fontSize:15,fontFamily:SANS},
    data:[{name:'F-class lines',textStyle:{color:'#e02020'}},{name:'C-class lines',textStyle:{color:'#2233d0'}},{name:'Parental MEF',textStyle:{color:'#111'}}]}});
</script></body></html>
